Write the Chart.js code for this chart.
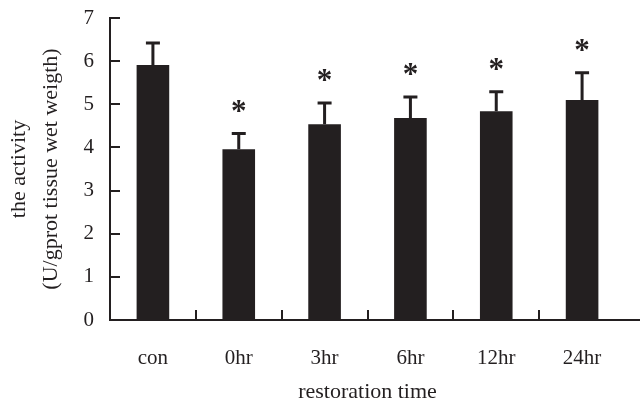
<!DOCTYPE html>
<html>
<head>
<meta charset="utf-8">
<script src="https://cdn.jsdelivr.net/npm/chart.js@4/dist/chart.umd.min.js"></script>
<style>
  html, body { margin: 0; padding: 0; background: #fff; }
  #wrap { width: 643px; height: 405px; position: relative; }
</style>
</head>
<body>
<div id="wrap"><canvas id="chart"></canvas></div>
<script>
// restoration time groups
const labels = ['con', '0hr', '3hr', '6hr', '12hr', '24hr'];
const means = [5.91, 3.96, 4.54, 4.68, 4.84, 5.10];
const errors = [0.51, 0.36, 0.49, 0.49, 0.45, 0.63];
const starred = [false, true, true, true, true, true];
const yTicks = [0, 1, 2, 3, 4, 5, 6, 7];

const INK = '#231f20';
const SERIF = '"Liberation Serif", "DejaVu Serif", serif';

// error bars, asterisks, inward tick marks and the longer x axis line
const decorations = {
  id: 'decorations',
  afterDatasetsDraw(chart) {
    const { ctx, chartArea, scales: { x, y } } = chart;
    ctx.save();
    ctx.strokeStyle = INK;
    ctx.fillStyle = INK;

    // y ticks point into the plot
    ctx.lineWidth = 2;
    yTicks.forEach(v => {
      if (v === 0) return;
      const py = Math.round(y.getPixelForValue(v));
      ctx.beginPath();
      ctx.moveTo(chartArea.left, py);
      ctx.lineTo(chartArea.left + 10, py);
      ctx.stroke();
    });

    // x ticks sit between the groups
    const half = (x.getPixelForValue(1) - x.getPixelForValue(0)) / 2;
    for (let i = 0; i < labels.length - 1; i++) {
      const px = Math.round(x.getPixelForValue(i) + half);
      ctx.beginPath();
      ctx.moveTo(px, chartArea.bottom);
      ctx.lineTo(px, chartArea.bottom - 10);
      ctx.stroke();
    }

    // axis line runs a bit past the last group
    ctx.beginPath();
    ctx.moveTo(chartArea.right - 1, chartArea.bottom);
    ctx.lineTo(chartArea.right + 15, chartArea.bottom);
    ctx.stroke();

    // upper error bars
    ctx.lineWidth = 3;
    means.forEach((m, i) => {
      const px = x.getPixelForValue(i);
      const top = y.getPixelForValue(m + errors[i]);
      const base = y.getPixelForValue(m);
      ctx.beginPath();
      ctx.moveTo(px, base);
      ctx.lineTo(px, top);
      ctx.moveTo(px - 7, top);
      ctx.lineTo(px + 7, top);
      ctx.stroke();

      if (starred[i]) {
        ctx.font = 'bold 31px ' + SERIF;
        ctx.textAlign = 'center';
        ctx.textBaseline = 'alphabetic';
        ctx.fillText('*', px, top - 13);
      }
    });
    ctx.restore();
  }
};

new Chart(document.getElementById('chart'), {
  type: 'bar',
  data: {
    labels,
    datasets: [{
      data: means,
      backgroundColor: INK,
      borderWidth: 0,
      barPercentage: 0.38,
      categoryPercentage: 1
    }]
  },
  options: {
    responsive: true, maintainAspectRatio: false,
    animation: false,
    layout: { padding: { top: 18, right: 18, left: 0, bottom: 0 } },
    plugins: { legend: { display: false }, tooltip: { enabled: false } },
    scales: {
      x: {
        afterFit: s => { s.height = 85; },
        grid: { display: false, drawTicks: false },
        border: { display: true, color: INK, width: 2 },
        ticks: { color: INK, padding: 26, font: { family: SERIF, size: 21 } },
        title: {
          display: true, text: 'restoration time', color: INK,
          font: { family: SERIF, size: 22 }, padding: { top: 0, bottom: 0 }
        }
      },
      y: {
        min: 0, max: 7,
        afterFit: s => { s.width = 110; s.paddingTop = 0; s.paddingBottom = 0; },
        afterBuildTicks: s => { s.ticks = yTicks.map(v => ({ value: v })); },
        grid: { display: false, drawTicks: false },
        border: { display: true, color: INK, width: 2 },
        ticks: { color: INK, padding: 16, font: { family: SERIF, size: 21 } },
        title: {
          display: true, text: ['the activity', '(U/gprot tissue wet weigth)'], color: INK,
          font: { family: SERIF, size: 22, lineHeight: 1.45 }, padding: { top: 3, bottom: 0 }
        }
      }
    }
  },
  plugins: [decorations]
});
</script>
</body>
</html>
